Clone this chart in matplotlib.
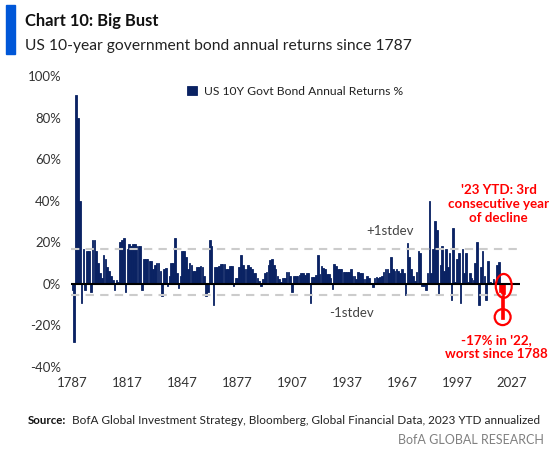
import numpy as np
import matplotlib
matplotlib.use("Agg")
import matplotlib.pyplot as plt
from matplotlib.patches import Ellipse, Rectangle

plt.rcParams['font.family'] = ['Lato', 'DejaVu Sans']

# annual returns %, 1787 .. 2023 (2023 = YTD annualized)
returns = [
    -3, -28, 91, 80, 40, -9, 17, -3, 16, 16,          # 1787
    -4, 21, 21, 16, 10, 5, 3, 14, 12, 8,              # 1797
    6, 4, 2, -3, 2, 1, 20, 21, 22, -4,                # 1807
    17, 19, 18, 19, 19, 18, 18, 18, -3, 12,           # 1817
    12, 12, 11, 11, 7, 9, 10, 10, 6, -6,              # 1827
    7, 7.5, -1, 4, 10, 10, 22, 5, -2, 4,              # 1837
    16, 16, 13, 7, 10, 9, 6, 6, 8, 8,                 # 1847
    8.5, 8, 4, -6, -4, 21, 18, -10, 8, 8,             # 1857
    8.5, 9.5, 9.5, 9.5, 7, 7, 8.8, 8.8, -1, 3,        # 1867
    3, 8, 14, 9, 7, 7, 9, 8, 7, 5,                    # 1877
    5, 3, 1.6, -1, 2.4, 5, 5.6, 9, 11.7, 12,          # 1887
    9, 7, 4, 2.4, 0.8, 3, 3, 5.6, 5.6, 3.7,           # 1897
    -4, 3.7, 3.7, 3.7, 4.3, 5.3, 5.3, 4.3, 5.3, 5.3,  # 1907
    -9, 3.2, 3.2, 4.3, 14, 4.8, 8.5, 7.8, 7.2, 4.8,   # 1917
    4.8, 3, -2.4, 9.6, 8.8, 7.2, 7.2, 7.2, 5.6, 5.6,  # 1927
    5.6, 5.6, 7, 4, 4, 2.4, 5.6, 5, 5, 2.4,           # 1937
    2.4, 4, 3, 0.5, -1.6, 3, 3.2, 3, 3.5, 4,          # 1947
    5.6, 7.2, 7.2, 5, 12.8, 7, 6, 7, 6, 5,            # 1957
    7, 5, -5.6, 19.7, 12.8, 7, 4, 1.6, 5.6, 16,       # 1967
    15, -1, -1, -3, 5, 40, 5, 17, 30, 26,             # 1977
    -5, 9, 18, 6, 17, 8, 15, -8, 27, 1,               # 1987
    12, 15, -9, 17, 5, 15, 1, 5, 3, 2,                # 1997
    10, 20, -10, 8, 16, 4, -8, 11, 1, 0.5,            # 2007
    2.5, -0.3, 9, 10.5, -4, -17, -5,                  # 2017
]
years = np.arange(1787, 1787 + len(returns))
plus_sd = 16.8
minus_sd = -5.3
highlight_from = 2021

NAVY = '#0a2263'
RED = '#ff0000'

fig = plt.figure(figsize=(5.53, 4.51), dpi=100)
ax = fig.add_axes([0.1284, 0.1863, 0.812, 0.6452])
renderer = fig.canvas.get_renderer()


def fit_width(txt, width_px):
    # shrink/grow a text so that it spans width_px pixels
    w = txt.get_window_extent(renderer).width
    txt.set_fontsize(txt.get_fontsize() * width_px / w)


old = years < highlight_from
ax.bar(years[old], np.array(returns)[old], width=0.9, color=NAVY, edgecolor=NAVY,
       linewidth=0.6, label='US 10Y Govt Bond Annual Returns %', zorder=2)
# last three years in red, drawn a bit heavier
ax.bar(years[~old], np.array(returns)[~old], width=1.0, color=RED, edgecolor=RED,
       linewidth=1.2, zorder=2)
ax.axhline(0, color='black', lw=1.5, zorder=3)
for v in (plus_sd, minus_sd):
    ax.axhline(v, color='#cccccc', lw=1.5, ls=(0, (4, 3)), zorder=4)

ax.set_xlim(1786.2, 2031.5)
ax.set_ylim(-40, 100)
ax.set_yticks(range(-40, 101, 20))
ax.set_yticklabels([f'{v}%' for v in range(-40, 101, 20)])
ax.set_xticks(range(1787, 2028, 30))
for s in ax.spines.values():
    s.set_visible(False)
ax.tick_params(length=0, labelsize=9.5, colors='#333333')
ax.tick_params(axis='y', pad=7)
ax.tick_params(axis='x', pad=7)

ax.legend(loc='center left', bbox_to_anchor=(0.245, 0.948), frameon=False,
          fontsize=8.7, handlelength=0.8, handleheight=0.8, handletextpad=0.6,
          borderpad=0, labelcolor='#222222')

ax.text(1960.5, 25.5, '+1stdev', ha='center', va='center', fontsize=9.5, color='#444444')
ax.text(1939.5, -13.8, '-1stdev', ha='center', va='center', fontsize=9.5, color='#444444')

ax.text(2019.7, 38.5, "'23 YTD: 3rd\nconsecutive year\nof decline", ha='center', va='center',
        fontsize=9.6, color=RED, fontweight='bold', linespacing=1.2)
ax.text(2018.7, -30.5, "-17% in '22,\nworst since 1788", ha='center', va='center',
        fontsize=9.6, color=RED, fontweight='bold', linespacing=1.2)

ax.add_patch(Ellipse((2022.6, -1), 8.7, 11.5, fill=False, ec=RED, lw=1.6, zorder=5, clip_on=False))
ax.add_patch(Ellipse((2022, -16), 8.7, 7.7, fill=False, ec=RED, lw=1.6, zorder=5, clip_on=False))

# header
fig.patches.append(Rectangle((6 / 553, 1 - 54 / 451), 9 / 553, 49 / 451,
                             transform=fig.transFigure, color='#0057d8'))
title = fig.text(25 / 553, 1 - 21 / 451, 'Chart 10: Big Bust', fontsize=12,
                 fontweight='bold', va='center', color='#111111')
fit_width(title, 133)
sub = fig.text(25 / 553, 1 - 46 / 451, 'US 10-year government bond annual returns since 1787',
               fontsize=11, va='center', color='#222222')
fit_width(sub, 386)

# footer
src_b = fig.text(28 / 553, 1 - 421 / 451, 'Source:', fontsize=8.5, fontweight='bold',
                 va='center', color='#111111')
fit_width(src_b, 38)
src = fig.text(72 / 553, 1 - 421 / 451,
               'BofA Global Investment Strategy, Bloomberg, Global Financial Data, 2023 YTD annualized',
               fontsize=8.5, va='center', color='#222222')
fit_width(src, 467)
fig.text(544 / 553, 1 - 440 / 451, 'BofA GLOBAL RESEARCH', fontsize=9, ha='right',
         va='center', color='#808080')

fig.savefig('out.png', dpi=100)
